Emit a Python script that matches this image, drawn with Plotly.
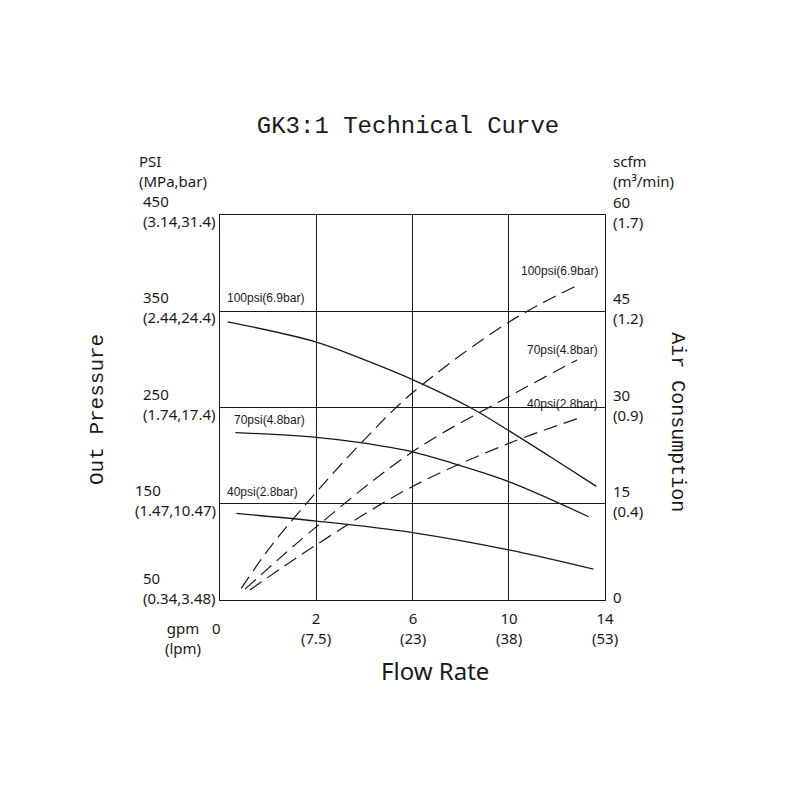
import plotly.graph_objects as go

# x values are grid positions: 0..4 map to 0, 2, 6, 10, 14 gpm
gpm_labels = ["2", "6", "10", "14"]
lpm_labels = ["(7.5)", "(23)", "(38)", "(53)"]
x_tick_pos = [1, 2, 3, 4]

psi_ticks = [450, 350, 250, 150, 50]
psi_sub = ["(3.14,31.4)", "(2.44,24.4)", "(1.74,17.4)", "(1.47,10.47)", "(0.34,3.48)"]
scfm_ticks = [60, 45, 30, 15, 0]
scfm_sub = ["(1.7)", "(1.2)", "(0.9)", "(0.4)", ""]

# out pressure curves (psi, left axis)
p100_x = [0.08, 1.0, 1.49, 2.0, 2.6, 3.0, 3.46, 3.91]
p100_y = [339, 318, 300, 279, 250, 226, 197, 168]
p70_x = [0.16, 1.0, 1.46, 2.0, 2.42, 3.0, 3.83]
p70_y = [224, 219, 213.5, 204, 192, 173, 136.5]
p40_x = [0.17, 1.0, 2.0, 3.0, 3.88]
p40_y = [140, 132, 120, 102, 82]

# air consumption curves (scfm, right axis)
a100_x = [0.22, 0.52, 1.0, 1.5, 2.0, 3.0, 3.71]
a100_y = [1.8, 8.2, 16.8, 25, 32.3, 43.3, 49]
a70_x = [0.26, 1.0, 2.0, 3.0, 3.71]
a70_y = [1.7, 11.4, 23.1, 31.7, 37.4]
a40_x = [0.31, 1.0, 2.0, 3.0, 3.76]
a40_y = [1.56, 8.6, 17.7, 24.4, 28.5]

INK = "#1a1a1a"
TICK_FONT = dict(family="Noto Sans", size=15, color=INK)
LABEL_FONT = dict(family="Liberation Sans Narrow, Liberation Sans", size=12, color=INK)
MONO = "Liberation Mono"


def solid(x, y):
    return go.Scatter(x=x, y=y, mode="lines", line=dict(color=INK, width=1.3, shape="spline"),
                      showlegend=False, hoverinfo="skip")


def dashed(x, y):
    return go.Scatter(x=x, y=y, yaxis="y2", mode="lines",
                      line=dict(color=INK, width=1.2, shape="spline", dash="14px,7px"),
                      showlegend=False, hoverinfo="skip")


fig = go.Figure()
for x, y in [(p100_x, p100_y), (p70_x, p70_y), (p40_x, p40_y)]:
    fig.add_trace(solid(x, y))
for x, y in [(a100_x, a100_y), (a70_x, a70_y), (a40_x, a40_y)]:
    fig.add_trace(dashed(x, y))

ann = []
# left tick labels
for v, s in zip(psi_ticks, psi_sub):
    ann.append(dict(xref="paper", yref="y", x=0, y=v, xanchor="right", yanchor="middle",
                    xshift=-2, yshift=12 if v == 50 else 4, align="left",
                    text=f"{v}<br>{s}", showarrow=False, font=TICK_FONT))
# right tick labels
for v, s in zip(scfm_ticks, scfm_sub):
    txt = f"{v}<br>{s}" if s else f"{v}"
    ann.append(dict(xref="paper", yref="y2", x=1, y=v, xanchor="left", yanchor="middle",
                    xshift=6, yshift=3, align="left", text=txt, showarrow=False, font=TICK_FONT))
# bottom tick labels
for p, g, l in zip(x_tick_pos, gpm_labels, lpm_labels):
    ann.append(dict(xref="x", yref="paper", x=p, y=0, xanchor="center", yanchor="top",
                    yshift=-6, text=f"{g}<br>{l}", showarrow=False, font=TICK_FONT))
ann.append(dict(xref="x", yref="paper", x=0, y=0, xanchor="center", yanchor="middle",
                xshift=-4, yshift=-28, text="0", showarrow=False, font=TICK_FONT))
ann.append(dict(xref="paper", yref="paper", x=0, y=0, xanchor="center", yanchor="middle",
                xshift=-37, yshift=-38, text="gpm<br>(lpm)", showarrow=False, font=TICK_FONT))
# unit headers
ann.append(dict(xref="paper", yref="paper", x=0, y=1, xanchor="left", yanchor="bottom",
                xshift=-83, yshift=22, align="left", text="PSI<br>(MPa,bar)",
                showarrow=False, font=TICK_FONT))
ann.append(dict(xref="paper", yref="paper", x=1, y=1, xanchor="left", yanchor="bottom",
                xshift=6, yshift=22, align="left", text="scfm<br>(m³/min)",
                showarrow=False, font=TICK_FONT))
# axis titles
ann.append(dict(xref="paper", yref="paper", x=0, y=0.4935, xanchor="center", yanchor="middle",
                xshift=-123, textangle=-90, text="Out Pressure", showarrow=False,
                font=dict(family=MONO, size=21, color=INK)))
ann.append(dict(xref="paper", yref="paper", x=1, y=0.462, xanchor="center", yanchor="middle",
                xshift=73, textangle=90, text="Air Consumption", showarrow=False,
                font=dict(family=MONO, size=20, color=INK)))
ann.append(dict(xref="paper", yref="paper", x=0.558, y=0, xanchor="center", yanchor="middle",
                yshift=-70, text="Flow Rate", showarrow=False,
                font=dict(family="Noto Sans", size=24, color=INK)))
# curve labels
for t, y in [("100psi(6.9bar)", 364), ("70psi(4.8bar)", 237), ("40psi(2.8bar)", 162)]:
    ann.append(dict(xref="x", yref="y", x=0.05 if t[0] != "7" else 0.12, y=y, xanchor="left",
                    yanchor="middle", text=t, showarrow=False, font=LABEL_FONT))
for t, y in [("100psi(6.9bar)", 392), ("70psi(4.8bar)", 310), ("40psi(2.8bar)", 254)]:
    ann.append(dict(xref="x", yref="y", x=3.95, y=y, xanchor="right",
                    yanchor="middle", text=t, showarrow=False, font=LABEL_FONT))

fig.update_layout(
    width=800, height=800, autosize=False,
    margin=dict(l=212, r=203, t=207, b=208),
    paper_bgcolor="white", plot_bgcolor="white",
    title=dict(text="GK3:1 Technical Curve", x=0.5, xanchor="center", y=0.854, yanchor="middle",
               font=dict(family=MONO, size=24, color=INK)),
    xaxis=dict(range=[0, 4], tickvals=[0, 1, 2, 3, 4], showticklabels=False, ticks="",
               showgrid=True, gridcolor=INK, gridwidth=1.3, zeroline=False,
               showline=True, linecolor=INK, linewidth=1.3, mirror=True),
    yaxis=dict(range=[50, 450], tickvals=psi_ticks, showticklabels=False, ticks="",
               showgrid=True, gridcolor=INK, gridwidth=1.3, zeroline=False,
               showline=True, linecolor=INK, linewidth=1.3, mirror=True),
    yaxis2=dict(range=[0, 60], overlaying="y", side="right", showticklabels=False,
                ticks="", showgrid=False, zeroline=False),
    annotations=ann,
)

fig.write_html("out.html")
